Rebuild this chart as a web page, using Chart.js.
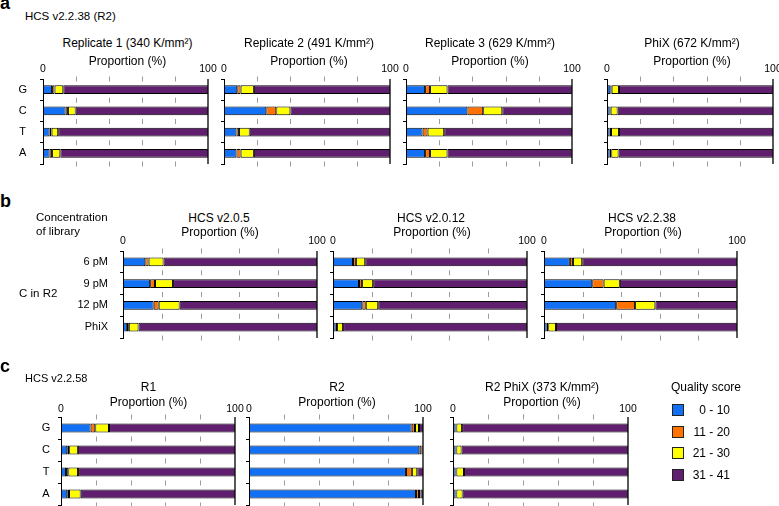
<!DOCTYPE html>
<html><head><meta charset="utf-8">
<script src="https://cdn.jsdelivr.net/npm/chart.js@4.4.1/dist/chart.umd.min.js"></script>
<style>
html,body{margin:0;padding:0;background:#fff;}
#wrap{position:relative;width:779px;height:506px;overflow:hidden;font-family:"Liberation Sans",Arial,Helvetica,sans-serif;color:#000;}
#wrap canvas{position:absolute;}
.t{position:absolute;white-space:nowrap;}
.sw{position:absolute;box-sizing:border-box;border:1px solid #222;}
</style></head><body><div id="wrap"></div>
<script>
// ---------- data ----------
const bases = ['G', 'C', 'T', 'A'];
const concentrations = ['6 pM', '9 pM', '12 pM', 'PhiX'];
const qualityScores = ['0 - 10', '11 - 20', '21 - 30', '31 - 41'];
const qualityColors = ['#1170f4', '#ff7200', '#ffff00', '#601f6e'];
const axisTicks = [0, 100];

// each array: rows = quality score bins (0-10, 11-20, 21-30, 31-41), columns = row categories
// panel a: HCS v2.2.38 (R2), rows G C T A
const rep1 = [[5.5, 13.7, 4, 4], [1.5, 1.4, 1.2, 1.5], [5.3, 4.7, 4, 5], [87.7, 80.2, 90.8, 89.5]];
const rep2 = [[8, 25.5, 7.5, 7.5], [2, 6, 1.5, 2.5], [8, 8.5, 6.5, 8], [82, 60, 84.5, 82]];
const rep3 = [[11.5, 37, 10, 11.5], [3, 9.5, 3, 3], [10.5, 11.5, 10, 10.5], [75, 42, 77, 75]];
const phixA = [[2, 1.6, 1.6, 1.6], [0.8, 0.6, 0.8, 1], [4.4, 4.2, 4.8, 4.4], [92.8, 93.6, 92.8, 93]];
// panel b: C in R2, rows 6 pM 9 pM 12 pM PhiX
const hcs205 = [[11.5, 14, 15.8, 2], [1.7, 2.5, 2.6, 1], [7.7, 9.3, 10.8, 5], [79.1, 74.2, 70.8, 92]];
const hcs2012 = [[10.3, 13.4, 15.1, 1.4], [1.5, 1.6, 1.8, 0.7], [4.8, 5.7, 6.4, 3.1], [83.4, 79.3, 76.7, 94.8]];
const hcs2238 = [[13.4, 25, 37.4, 1.4], [1.6, 5.9, 9.8, 0.8], [4.8, 8.4, 10.5, 4], [80.2, 60.7, 42.3, 93.8]];
// panel c: HCS v2.2.58, rows G C T A
const r1 = [[17, 3.6, 2.9, 3.6], [2.7, 1.1, 1.3, 1], [7.9, 5, 5.6, 6.7], [72.4, 90.3, 90.2, 88.7]];
const r2 = [[93.5, 97.9, 90.2, 96], [1.9, 1.3, 3.4, 1.7], [2.3, 0.4, 3.1, 0.8], [2.3, 0.4, 3.3, 1.5]];
const r2phix = [[1.5, 1.5, 1.5, 1.5], [0.4, 0.4, 0.4, 0.4], [3.3, 3, 4.4, 3.6], [94.8, 95.1, 93.7, 94.5]];

// ---------- rendering ----------
Chart.defaults.font.family = '"Liberation Sans", Arial, Helvetica, sans-serif';
Chart.defaults.color = '#000';
const wrap = document.getElementById('wrap');
const XH = 20, RP = 14, BP = 4;

const marksPlugin = {
  id: 'marks',
  beforeDatasetsDraw(chart) {
    const {ctx, chartArea: a, scales: {x, y}} = chart;
    const n = y.getLabels().length;
    ctx.save();
    ctx.strokeStyle = '#9b9b9b';
    ctx.lineWidth = 1;
    x.ticks.filter(t => t.value > 0 && t.value < 100).forEach(t => {
      const px = Math.round(x.getPixelForValue(t.value)) + 0.5;
      for (let k = 0; k <= n; k++) {
        const yy = a.top + k * (a.bottom - a.top) / n;
        ctx.beginPath();
        ctx.moveTo(px, yy - 2.5);
        ctx.lineTo(px, yy + 2.5);
        ctx.stroke();
      }
    });
    ctx.restore();
  },
  afterDatasetsDraw(chart) {
    const {ctx, chartArea: a, scales: {x}} = chart;
    const px = x.getPixelForValue(100);
    ctx.save();
    ctx.strokeStyle = '#222';
    ctx.lineWidth = 1.5;
    ctx.beginPath();
    ctx.moveTo(px, a.top);
    ctx.lineTo(px, a.bottom);
    ctx.stroke();
    ctx.restore();
  }
};

function makeChart(values, labels, g) {
  const c = document.createElement('canvas');
  const w = g.yw + g.w + RP, h = XH + g.h + BP;
  c.width = w; c.height = h;
  c.style.left = (g.l - g.yw) + 'px';
  c.style.top = (g.t - XH) + 'px';
  c.style.width = w + 'px'; c.style.height = h + 'px';
  wrap.appendChild(c);
  new Chart(c, {
    type: 'bar',
    data: {
      labels: labels,
      datasets: qualityScores.map((name, i) => ({
        label: name,
        data: values[i],
        backgroundColor: qualityColors[i],
        borderColor: '#000',
        borderWidth: 1,
        borderSkipped: false,
        categoryPercentage: 0.41,
        barPercentage: 1
      }))
    },
    options: {
      indexAxis: 'y',
      responsive: false,
      animation: false,
      devicePixelRatio: 1,
      layout: {padding: {left: 0, top: 0, right: RP, bottom: BP}},
      plugins: {legend: {display: false}, tooltip: {enabled: false}},
      scales: {
        x: {
          type: 'linear', position: 'top', stacked: true, min: 0, max: 100,
          ticks: {stepSize: 20, autoSkip: false, maxRotation: 0, padding: g.xpad, color: '#000',
            font: {size: 10.5},
            callback: v => axisTicks.includes(v) ? String(v) : ''},
          grid: {display: false, drawTicks: false},
          border: {display: false},
          afterFit: s => { s.height = XH; s.paddingLeft = 0; s.paddingRight = 0; }
        },
        y: {
          type: 'category', stacked: true, offset: true,
          ticks: {display: !!g.showY, color: '#000', font: {size: 11}, padding: g.ypad || 0,
            crossAlign: g.align || 'near'},
          grid: {display: true, drawOnChartArea: false, drawTicks: true, tickLength: 3,
            color: '#000', offset: true},
          border: {display: true, color: '#000', width: 1},
          afterFit: s => { s.width = g.yw; s.paddingTop = 0; s.paddingBottom = 0; }
        }
      }
    },
    plugins: [marksPlugin]
  });
}

function txt(html, x, base, size, align, bold) {
  const d = document.createElement('div');
  d.className = 't';
  d.innerHTML = html;
  d.style.fontSize = size + 'px';
  d.style.lineHeight = size + 'px';
  d.style.top = (base - 0.8465 * size) + 'px';
  d.style.left = x + 'px';
  if (align === 'center') d.style.transform = 'translateX(-50%)';
  else if (align === 'right') d.style.transform = 'translateX(-100%)';
  if (bold) d.style.fontWeight = 'bold';
  wrap.appendChild(d);
}

// panel a
makeChart(rep1, bases, {l: 43, t: 79, w: 165, h: 85, yw: 40, showY: true, align: 'center', ypad: 13, xpad: 3.7});
makeChart(rep2, bases, {l: 224, t: 79, w: 166, h: 85, yw: 10, xpad: 3.7});
makeChart(rep3, bases, {l: 406, t: 79, w: 166, h: 85, yw: 10, xpad: 3.7});
makeChart(phixA, bases, {l: 607, t: 79, w: 166, h: 85, yw: 10, xpad: 3.7});
// panel b
makeChart(hcs205, concentrations, {l: 123, t: 251, w: 194, h: 87, yw: 75, showY: true, align: 'near', ypad: 12, xpad: 3.3});
makeChart(hcs2012, concentrations, {l: 333, t: 251, w: 194, h: 87, yw: 10, xpad: 3.3});
makeChart(hcs2238, concentrations, {l: 544, t: 251, w: 193, h: 87, yw: 10, xpad: 3.3});
// panel c
makeChart(r1, bases, {l: 61, t: 417, w: 174, h: 88, yw: 40, showY: true, align: 'center', ypad: 7.7, xpad: 1.5});
makeChart(r2, bases, {l: 249, t: 417, w: 174, h: 88, yw: 10, xpad: 1.5});
makeChart(r2phix, bases, {l: 453, t: 417, w: 175, h: 88, yw: 10, xpad: 1.5});

// texts
txt('a', 0, 9, 18, 'left', true);
txt('HCS v2.2.38 (R2)', 25, 21, 11.5);
[['Replicate 1 (340 K/mm²)', 127.5], ['Replicate 2 (491 K/mm²)', 309], ['Replicate 3 (629 K/mm²)', 490], ['PhiX (672 K/mm²)', 692]]
  .forEach(([s, x]) => { txt(s, x, 47.3, 12, 'center'); txt('Proportion (%)', x, 65, 12, 'center'); });

txt('b', 0, 207, 18, 'left', true);
txt('Concentration', 36, 222, 11.5);
txt('of library', 36, 236, 11.5);
txt('C in R2', 19, 298, 11.5);
[['HCS v2.0.5', 219], ['HCS v2.0.12', 431], ['HCS v2.2.38', 642]]
  .forEach(([s, x]) => { txt(s, x, 222, 12, 'center'); txt('Proportion (%)', x + 1, 236.5, 12, 'center'); });

txt('c', 0, 372, 18, 'left', true);
txt('HCS v2.2.58', 25, 382, 11);
[['R1', 148.5], ['R2', 337], ['R2 PhiX (373 K/mm²)', 542]]
  .forEach(([s, x]) => { txt(s, x, 391, 12, 'center'); txt('Proportion (%)', x, 406, 12, 'center'); });

// legend
txt('Quality score', 671, 391, 12);
qualityScores.forEach((s, i) => {
  const cy = 410 + i * 21.6;
  const b = document.createElement('div');
  b.className = 'sw';
  b.style.left = '672px'; b.style.top = (cy - 6) + 'px';
  b.style.width = '12px'; b.style.height = '12px';
  b.style.background = qualityColors[i];
  wrap.appendChild(b);
  txt(s, 730, cy + 4.3, 12, 'right');
});
</script></body></html>
